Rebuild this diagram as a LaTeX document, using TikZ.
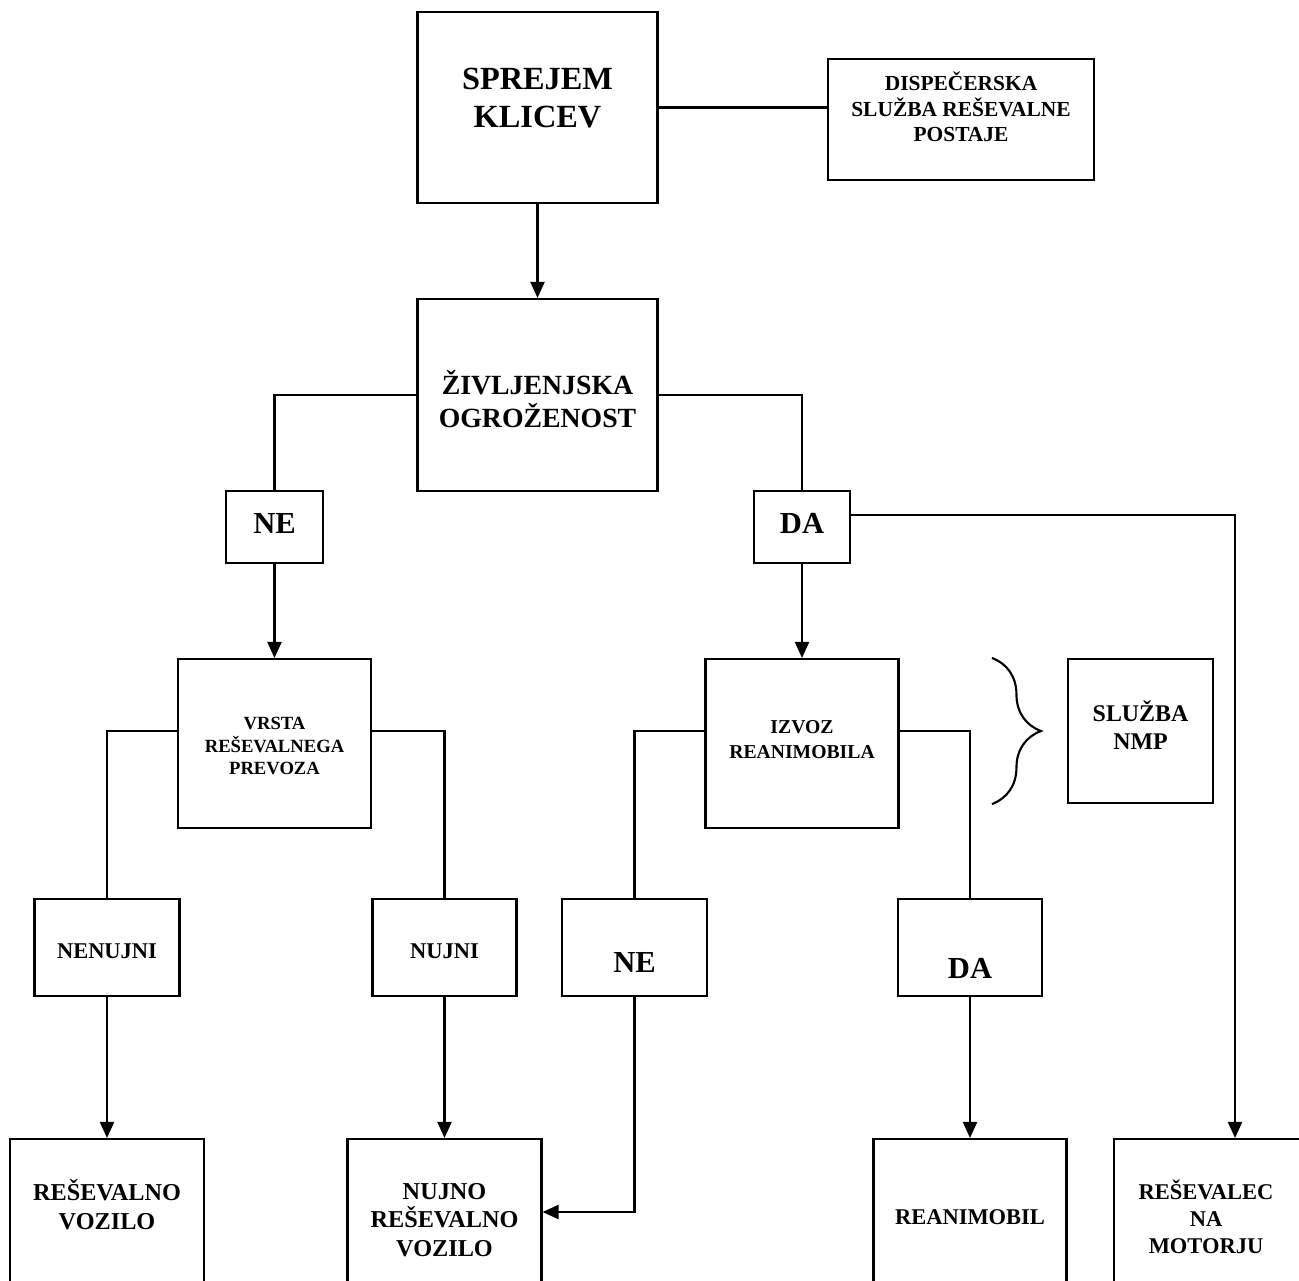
\documentclass[tikz,border=0pt]{standalone}
\usepackage{fontspec}
\setmainfont{Liberation Serif}
\usetikzlibrary{arrows.meta,decorations.pathreplacing}

\begin{document}
\begin{tikzpicture}[x=0.1mm, y=-0.1mm, line width=0.6pt,
    >={Triangle[length=1.6mm, width=1.4mm]},
    box/.style={draw, rectangle, inner sep=0pt},
    lbl/.style={align=center, inner sep=0pt},
    fnt/.style 2 args={font=\fontsize{#1}{#2}\selectfont\bfseries}]
  \useasboundingbox (0,0) rectangle (1299,1280);

  \node[box, minimum width=24mm,   minimum height=19.1mm] (SPREJEM)     at (537.5,107.5) {};
  \node[box, minimum width=26.6mm, minimum height=12.1mm] (DISPECERSKA) at (961,119.5)   {};
  \node[box, minimum width=24mm,   minimum height=19.2mm] (ZIVLJENJSKA) at (537.5,395)   {};
  \node[box, minimum width=9.7mm,  minimum height=7.2mm]  (NE)          at (274.5,527)   {};
  \node[box, minimum width=9.6mm,  minimum height=7.2mm]  (DA)          at (802,527)     {};
  \node[box, minimum width=19.3mm, minimum height=16.9mm] (VRSTA)       at (274.5,743.5) {};
  \node[box, minimum width=19.3mm, minimum height=16.9mm] (IZVOZ)       at (802,743.5)   {};
  \node[box, minimum width=14.5mm, minimum height=14.4mm] (NMP)         at (1140.5,731)  {};
  \node[box, minimum width=14.5mm, minimum height=9.7mm]  (NENUJNI)     at (107,947.5)   {};
  \node[box, minimum width=14.4mm, minimum height=9.7mm]  (NUJNI)       at (444.5,947.5) {};
  \node[box, minimum width=14.5mm, minimum height=9.7mm]  (NE2)         at (634.5,947.5) {};
  \node[box, minimum width=14.4mm, minimum height=9.7mm]  (DA2)         at (970,947.5)   {};
  \node[box, minimum width=19.4mm, minimum height=14.6mm] (RV)          at (107,1212)    {};
  \node[box, minimum width=19.4mm, minimum height=14.6mm] (NRV)         at (444.5,1212)  {};
  \node[box, minimum width=19.3mm, minimum height=14.6mm] (REANIMOBIL)  at (970,1212)    {};
  \node[box, minimum width=24.2mm, minimum height=14.6mm] (MOTOR)       at (1235,1212)   {};

  \node[lbl, fnt={9.2}{10.9}] (SPREJEMt)    at (537.5,98)    {SPREJEM\\KLICEV};
  \node[lbl, fnt={6.1}{7.3}] (DISPECERSKAt) at (961,107)     {DISPEČERSKA\\SLUŽBA REŠEVALNE\\POSTAJE};
  \node[lbl, fnt={7.9}{9.2}] (ZIVLJENJSKAt) at (537.5,399)   {ŽIVLJENJSKA\\OGROŽENOST};
  \node[lbl, fnt={8.7}{10}]  (NEt)          at (274.5,523)   {NE};
  \node[lbl, fnt={8.7}{10}]  (DAt)          at (802,523)     {DA};
  \node[lbl, fnt={5.3}{6.3}] (VRSTAt)       at (274.5,746)   {VRSTA\\REŠEVALNEGA\\PREVOZA};
  \node[lbl, fnt={5.6}{7.1}] (IZVOZt)       at (802,740)     {IZVOZ\\REANIMOBILA};
  \node[lbl, fnt={6.8}{8.1}] (NMPt)         at (1140.5,725)  {SLUŽBA\\NMP};
  \node[lbl, fnt={6.4}{8}]   (NENUJNIt)     at (107,951)     {NENUJNI};
  \node[lbl, fnt={6.4}{8}]   (NUJNIt)       at (444.5,951)   {NUJNI};
  \node[lbl, fnt={8.7}{10}]  (NE2t)         at (634.5,962)   {NE};
  \node[lbl, fnt={8.7}{10}]  (DA2t)         at (970,968)     {DA};
  \node[lbl, fnt={6.9}{8.3}] (RVt)          at (107,1205)    {REŠEVALNO\\VOZILO};
  \node[lbl, fnt={6.9}{8.2}] (NRVt)         at (444.5,1220)  {NUJNO\\REŠEVALNO\\VOZILO};
  \node[lbl, fnt={6.4}{8}]   (REANIMOBILt)  at (970,1217)    {REANIMOBIL};
  \node[lbl, fnt={6.4}{7.6}] (MOTORt)       at (1206,1217)   {REŠEVALEC\\NA\\MOTORJU};

  \draw (SPREJEM.east) -- (SPREJEM.east -| DISPECERSKA.west);
  \draw[->] (SPREJEM) -- (ZIVLJENJSKA);
  \draw (ZIVLJENJSKA.west) -| (NE.north);
  \draw (ZIVLJENJSKA.east) -| (DA.north);
  \draw[->] (NE) -- (VRSTA);
  \draw[->] (DA) -- (IZVOZ);
  \draw[->] ([yshift=1.2mm]DA.east) -| (MOTOR.north);
  \draw ([yshift=1.25mm]VRSTA.west) -| (NENUJNI.north);
  \draw ([yshift=1.25mm]VRSTA.east) -| (NUJNI.north);
  \draw ([yshift=1.25mm]IZVOZ.west) -| (NE2.north);
  \draw ([yshift=1.25mm]IZVOZ.east) -| (DA2.north);
  \draw[->] (NENUJNI) -- (RV);
  \draw[->] (NUJNI) -- (NRV);
  \draw[->] (NE2.south) |- (NRV.east);
  \draw[->] (DA2) -- (REANIMOBIL);
  \draw[decorate, decoration={brace, amplitude=4.9mm}]
    ([xshift=-7.5mm]NMP.north west) -- ([xshift=-7.5mm]NMP.south west);
\end{tikzpicture}
\end{document}
